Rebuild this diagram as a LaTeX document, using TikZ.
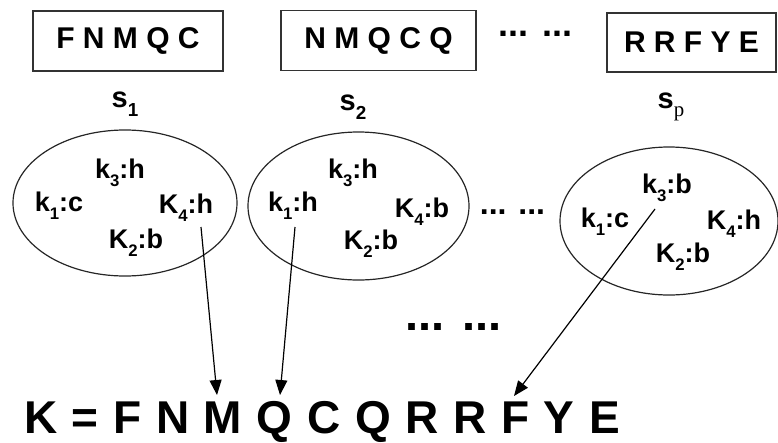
\documentclass[tikz,border=0pt]{standalone}
\usepackage{fontspec}
\setmainfont{Liberation Sans}
\newfontfamily\serifp{Liberation Serif}
\usetikzlibrary{shapes.geometric,arrows.meta}
% lowered, reduced index set after a letter
\newcommand\low[2][0.62]{\raisebox{-0.3em}{\scalebox{#1}{#2}}}
\begin{document}
\begin{tikzpicture}[x=1pt,y=-1pt,
  seqbox/.style={draw=black!80,line width=1.4pt,inner sep=0pt,
    font=\fontsize{30}{36}\selectfont\bfseries},
  keyset/.style={draw=black!85,ellipse,line width=1.2pt,inner sep=0pt},
  kv/.style={inner sep=0pt,font=\fontsize{27}{30}\selectfont\bfseries},
  slabel/.style={inner sep=0pt,font=\fontsize{29}{32}\selectfont\bfseries},
  dots/.style={inner sep=0pt,font=\bfseries},
  pick/.style={line width=1.2pt,-{Triangle[length=15pt,width=12pt]}}]
\useasboundingbox (0,0) rectangle (778,442);

% sequences
\node[seqbox,minimum width=190,minimum height=60] (b1) at (128,41) {F N M Q C};
\node[seqbox,minimum width=195,minimum height=60] (b2) at (378.5,40.5) {N M Q C Q};
\node[seqbox,minimum width=169,minimum height=59] (b3) at (691.5,42.5) {R R F Y E};
\node[dots,font=\fontsize{36}{36}\selectfont\bfseries] (d1) at (535.5,34) {... ...};

% sequence labels
\node[slabel] (s1) at (125,104) {s\low[0.65]{1}};
\node[slabel] (s2) at (353,107) {s\low[0.65]{2}};
\node[slabel] (sp) at (671,107) {s\low[0.72]{\serifp\mdseries p}};

% key sets
\node[keyset,minimum width=224,minimum height=146] (e1) at (125,203) {};
\node[keyset,minimum width=221,minimum height=148] (e2) at (358.5,206) {};
\node[keyset,minimum width=218,minimum height=148] (e3) at (669,221) {};
\node[dots,font=\fontsize{32}{32}\selectfont\bfseries] (d2) at (512.5,212) {... ...};

\node[kv] (a3) at (120,173) {k\low{3}:h};
\node[kv] (a1) at (59,206) {k\low{1}:c};
\node[kv] (a4) at (186,208) {K\low{4}:h};
\node[kv] (a2) at (136,243) {K\low{2}:b};

\node[kv] (c3) at (353,173) {k\low{3}:h};
\node[kv] (c1) at (293,206) {k\low{1}:h};
\node[kv] (c4) at (422,212) {K\low{4}:b};
\node[kv] (c2) at (371,244) {K\low{2}:b};

\node[kv] (f3) at (667,188) {k\low{3}:b};
\node[kv] (f1) at (605,222) {k\low{1}:c};
\node[kv] (f4) at (734,224) {K\low{4}:h};
\node[kv] (f2) at (683,257) {K\low{2}:b};

\node[dots,font=\fontsize{47}{47}\selectfont\bfseries] (d3) at (453.5,327) {... ...};

% concatenated key
\node[inner sep=0pt,anchor=base west,font=\fontsize{46}{52}\selectfont\bfseries]
  (key) at (24,433) {\spaceskip=14.6pt\relax K = F N M Q C Q R R F Y E};

\coordinate (fromA) at (201,227);
\coordinate (fromB) at (295,227);
\coordinate (fromC) at (655,209);
\coordinate (toA) at (217,395);
\coordinate (toB) at (280,395);
\coordinate (toC) at (514,396);
\draw[pick] (fromA) -- (toA);
\draw[pick] (fromB) -- (toB);
\draw[pick] (fromC) -- (toC);
\end{tikzpicture}
\end{document}
